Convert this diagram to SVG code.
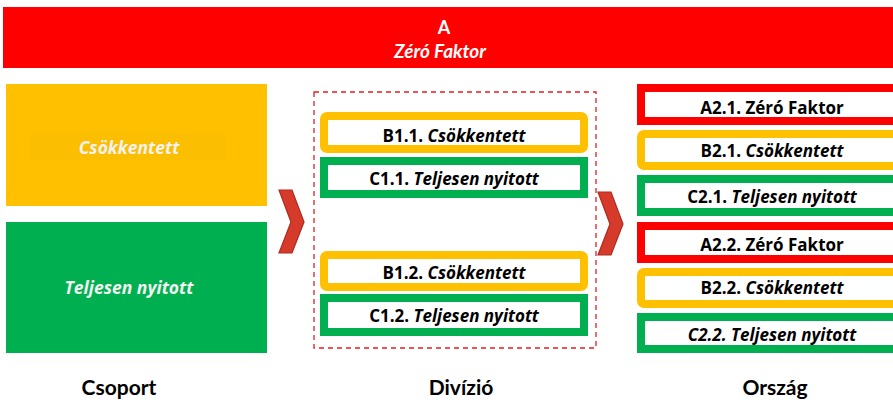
<svg xmlns="http://www.w3.org/2000/svg" width="893" height="403" viewBox="0 0 893 403">
<style>
text{font-family:Lato,"Liberation Sans",sans-serif;font-weight:bold;text-anchor:middle}
.bx{font-family:"Open Sans","Liberation Sans",sans-serif;font-size:17px;fill:#000}
.w{font-family:"Open Sans","Liberation Sans",sans-serif;fill:#f2f2f2;font-style:italic;font-size:17.5px}
.lbl{font-size:21px;fill:#000}
.y{fill:#fff;stroke:#FFC000;stroke-width:8}
.g{fill:#fff;stroke:#00B050;stroke-width:8}
.r{fill:#fff;stroke:#FF0000;stroke-width:8}
.chev{fill:#D63A2A;stroke:#B02A1E;stroke-width:1.2}
</style>
<g id="top">
<rect x="3" y="7" width="890" height="61" fill="#FF0000"/>
<text x="444" y="34" font-size="18" fill="#fff">A</text>
<text x="440" y="58" font-size="19" fill="#fff" font-style="italic">Zéró Faktor</text>
</g>
<g id="csoport-b">
<rect x="6" y="84" width="261" height="122" fill="#FFC000"/>
<rect x="30" y="133" width="196" height="27" fill="#FBBE00"/>
<text class="w" x="129" y="154">Csökkentett</text>
</g>
<g id="csoport-c">
<rect x="6" y="222" width="261" height="131" fill="#00B050"/>
<text class="w" x="129" y="294">Teljesen nyitott</text>
</g>
<g id="connectors">
<polygon class="chev" points="279,190 292,190 304,222 292,253 279,253 291,222"/>
<polygon class="chev" points="598,192 611,192 623,224 611,255 598,255 610,224"/>
</g>
<g id="divizio">
<rect x="314" y="92" width="282" height="256" fill="none" stroke="#E02020" stroke-width="1.3" stroke-dasharray="5,4"/>
</g>
<g id="b11"><rect class="y" x="324" y="116" width="260" height="33" rx="3"/><text class="bx" x="454" y="142">B1.1. <tspan font-style="italic">Csökkentett</tspan></text></g>
<g id="c11"><rect class="g" x="324" y="161" width="260" height="33"/><text class="bx" x="454" y="185">C1.1. <tspan font-style="italic">Teljesen nyitott</tspan></text></g>
<g id="b12"><rect class="y" x="324" y="255" width="260" height="32" rx="3"/><text class="bx" x="454" y="279">B1.2. <tspan font-style="italic">Csökkentett</tspan></text></g>
<g id="c12"><rect class="g" x="324" y="298" width="260" height="34"/><text class="bx" x="454" y="322">C1.2. <tspan font-style="italic">Teljesen nyitott</tspan></text></g>
<g id="a21"><rect class="r" x="641" y="88" width="270" height="33"/><text class="bx" x="772" y="114">A2.1. Zéró Faktor</text></g>
<g id="b21"><rect class="y" x="641" y="134" width="270" height="32" rx="3"/><text class="bx" x="772" y="157">B2.1. <tspan font-style="italic">Csökkentett</tspan></text></g>
<g id="c21"><rect class="g" x="641" y="179" width="270" height="33"/><text class="bx" x="772" y="203">C2.1. <tspan font-style="italic">Teljesen nyitott</tspan></text></g>
<g id="a22"><rect class="r" x="641" y="226" width="270" height="33"/><text class="bx" x="772" y="251">A2.2. Zéró Faktor</text></g>
<g id="b22"><rect class="y" x="641" y="272" width="270" height="32" rx="3"/><text class="bx" x="772" y="294">B2.2. <tspan font-style="italic">Csökkentett</tspan></text></g>
<g id="c22"><rect class="g" x="641" y="317" width="270" height="32"/><text class="bx" x="772" y="341" font-style="italic">C2.2. Teljesen nyitott</text></g>
<g id="labels">
<text class="lbl" x="119" y="395">Csoport</text>
<text class="lbl" x="461" y="395">Divízió</text>
<text class="lbl" x="775" y="395">Ország</text>
</g>
</svg>
